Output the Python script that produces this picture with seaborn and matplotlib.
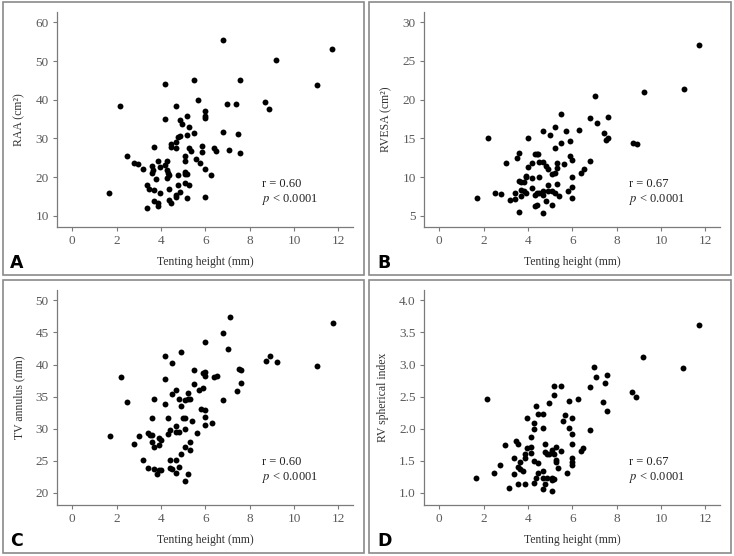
import matplotlib
matplotlib.use("Agg")
import matplotlib.pyplot as plt
import seaborn as sns
import pandas as pd
from matplotlib.patches import Rectangle

sns.set_style("ticks")
plt.rcParams['font.family'] = ['Liberation Serif', 'DejaVu Serif']
plt.rcParams['mathtext.fontset'] = 'stix'

# ---------------- data ----------------
a_x = [1.65, 2.17, 2.47, 2.77, 2.96, 3.17, 3.37, 3.37, 3.47, 3.58, 3.58, 3.62, 3.67, 3.67, 3.67,
       3.76, 3.86, 3.86, 3.86, 3.97, 3.97, 4.17, 4.17, 4.17, 4.27, 4.27, 4.27, 4.32, 4.38, 4.38,
       4.38, 4.47, 4.47, 4.47, 4.66, 4.66, 4.66, 4.66, 4.66, 4.77, 4.77, 4.77, 4.86, 4.86, 4.87,
       4.96, 5.07, 5.07, 5.07, 5.07, 5.07, 5.17, 5.17, 5.17, 5.17, 5.26, 5.26, 5.26, 5.37, 5.47,
       5.47, 5.58, 5.67, 5.77, 5.86, 5.86, 5.97, 5.97, 5.97, 5.97, 5.97, 6.27, 6.38, 6.48, 6.80,
       6.80, 6.98, 7.08, 7.38, 7.47, 7.58, 7.58, 8.71, 8.89, 9.20, 11.02, 11.70]
a_y = [15.8, 38.5, 25.4, 23.7, 23.5, 22.2, 17.9, 12.1, 17.0, 23.0, 21.1, 21.8, 27.8, 16.6, 13.9,
       19.5, 13.4, 12.6, 24.2, 15.9, 22.7, 23.1, 44.2, 35.0, 24.2, 21.8, 19.7, 21.1, 20.6, 16.9,
       14.2, 27.8, 28.5, 13.4, 15.3, 14.9, 27.5, 29.0, 38.4, 30.4, 20.6, 17.9, 30.6, 16.2, 34.9,
       33.7, 25.4, 24.1, 21.3, 20.9, 18.5, 35.8, 30.8, 20.8, 14.7, 33.0, 27.5, 18.0, 26.7, 45.1,
       31.5, 24.8, 40.0, 23.7, 28.1, 26.6, 37.1, 35.7, 35.3, 22.0, 14.8, 20.6, 27.5, 26.7, 55.5,
       31.7, 38.9, 27.1, 38.9, 31.1, 45.1, 26.3, 39.4, 37.6, 50.2, 43.7, 53.2]

b_x = [1.70, 2.20, 2.50, 2.80, 3.01, 3.20, 3.40, 3.40, 3.50, 3.61, 3.61, 3.61, 3.70, 3.70, 3.70,
       3.80, 3.80, 3.89, 3.89, 3.89, 4.00, 4.00, 4.20, 4.20, 4.20, 4.30, 4.30, 4.30, 4.39, 4.39,
       4.39, 4.45, 4.50, 4.50, 4.50, 4.69, 4.69, 4.69, 4.69, 4.69, 4.80, 4.80, 4.90, 4.90, 4.90,
       5.00, 5.10, 5.10, 5.10, 5.20, 5.20, 5.20, 5.20, 5.31, 5.31, 5.31, 5.41, 5.50, 5.50, 5.61,
       5.71, 5.80, 5.91, 5.91, 6.00, 6.00, 6.00, 6.00, 6.30, 6.40, 6.51, 6.81, 6.81, 7.02, 7.11,
       7.41, 7.52, 7.61, 7.61, 8.72, 8.92, 9.22, 11.02, 11.73]
b_y = [7.24, 15.0, 7.97, 7.76, 11.77, 7.03, 7.97, 7.2, 12.5, 13.06, 9.44, 5.43, 9.4, 8.3, 7.5,
       9.4, 8.15, 10.1, 9.96, 7.97, 15.0, 11.34, 11.85, 9.83, 8.53, 12.97, 7.67, 6.25, 12.97, 7.97,
       6.42, 12.97, 11.9, 9.96, 7.97, 16.0, 11.9, 8.19, 7.67, 5.39, 11.42, 6.94, 10.99, 8.97, 8.23,
       15.47, 10.39, 8.15, 6.42, 16.5, 13.8, 10.47, 7.97, 11.85, 11.16, 9.1, 7.5, 18.2, 14.35, 11.68,
       15.9, 8.19, 14.7, 12.7, 12.16, 10.04, 8.75, 7.24, 16.08, 10.47, 10.99, 17.6, 12.07, 20.43, 16.98,
       15.69, 14.78, 17.8, 15.0, 14.4, 14.27, 20.95, 21.4, 27.07]

c_x = [1.68, 2.18, 2.48, 2.78, 2.99, 3.20, 3.40, 3.40, 3.49, 3.60, 3.60, 3.60, 3.70, 3.70, 3.70,
       3.80, 3.89, 3.89, 4.00, 4.00, 3.89, 4.20, 4.20, 4.20, 4.30, 4.30, 4.39, 4.39, 4.39, 4.50,
       4.50, 4.50, 4.69, 4.69, 4.69, 4.69, 4.69, 4.80, 4.80, 4.80, 4.90, 4.90, 4.90, 5.00, 5.10,
       5.10, 5.10, 5.10, 5.10, 5.20, 5.20, 5.20, 5.31, 5.31, 5.31, 5.41, 5.50, 5.50, 5.61, 5.71,
       5.80, 5.91, 5.91, 6.00, 6.00, 6.00, 6.00, 6.00, 6.00, 6.30, 6.40, 6.51, 6.81, 6.81, 7.02,
       7.11, 7.41, 7.52, 7.61, 7.61, 8.72, 8.92, 9.22, 11.02, 11.74]
c_y = [28.9, 38.05, 34.2, 27.7, 28.8, 25.2, 29.4, 23.9, 29.05, 31.6, 29.05, 27.9, 34.6, 27.2, 23.8,
       23.0, 27.5, 28.5, 28.2, 23.6, 23.6, 41.3, 37.8, 33.8, 31.7, 29.2, 29.8, 25.2, 23.9, 40.2,
       35.4, 23.8, 36.1, 30.4, 29.5, 25.2, 23.1, 34.7, 29.5, 24.0, 41.9, 33.6, 26.05, 31.7, 34.4,
       31.7, 29.9, 27.2, 21.8, 35.5, 34.6, 23.0, 34.6, 28.0, 26.7, 31.2, 39.1, 37.0, 29.3, 36.1,
       33.1, 38.7, 36.3, 43.5, 38.9, 38.2, 32.9, 31.8, 30.6, 30.9, 38.0, 38.2, 44.9, 34.5, 42.4,
       47.4, 35.8, 39.3, 39.1, 37.1, 40.6, 41.4, 40.4, 39.8, 46.5]

d_x = [1.65, 2.17, 2.45, 2.75, 2.96, 3.16, 3.35, 3.35, 3.46, 3.55, 3.55, 3.55, 3.65, 3.65, 3.76,
       3.85, 3.85, 3.85, 3.95, 3.95, 4.15, 4.15, 4.15, 4.26, 4.26, 4.26, 4.26, 4.36, 4.36, 4.47,
       4.47, 4.47, 4.66, 4.66, 4.66, 4.66, 4.66, 4.77, 4.77, 4.77, 4.86, 4.86, 4.96, 4.96, 5.07,
       5.07, 5.07, 5.07, 5.17, 5.17, 5.17, 5.17, 5.26, 5.26, 5.26, 5.37, 5.47, 5.47, 5.56, 5.67,
       5.77, 5.86, 5.86, 5.97, 5.97, 5.97, 5.97, 5.97, 5.97, 6.27, 6.38, 6.48, 6.78, 6.78, 6.98,
       7.08, 7.38, 7.47, 7.58, 7.58, 8.69, 8.89, 9.19, 11.01, 11.70]
d_y = [1.24, 2.47, 1.31, 1.44, 1.75, 1.07, 1.55, 1.29, 1.81, 1.77, 1.41, 1.14, 1.48, 1.37, 1.35,
       1.60, 1.54, 1.14, 2.17, 1.70, 1.87, 1.71, 1.62, 2.09, 1.99, 1.50, 1.15, 2.36, 1.23, 2.23,
       1.46, 1.31, 2.23, 2.01, 1.35, 1.24, 1.06, 1.77, 1.64, 1.14, 1.60, 1.24, 2.40, 1.61, 1.67,
       1.24, 1.20, 1.03, 2.66, 2.52, 1.60, 1.21, 1.71, 1.52, 1.48, 1.39, 2.66, 1.65, 2.12, 2.21,
       1.31, 2.43, 2.01, 2.17, 1.92, 1.77, 1.54, 1.49, 1.43, 2.46, 1.66, 1.70, 2.65, 1.98, 2.96,
       2.80, 2.41, 2.72, 2.83, 2.28, 2.57, 2.50, 3.11, 2.95, 3.61]

x_label = "Tenting height (mm)"
y_labels = ["RAA (cm²)", "RVESA (cm²)", "TV annulus (mm)", "RV spherical index"]
panel_letters = ["A", "B", "C", "D"]
r_texts = ["r = 0.60", "r = 0.67", "r = 0.60", "r = 0.67"]
x_ticks = [0, 2, 4, 6, 8, 10, 12]
y_ticks = [[10, 20, 30, 40, 50, 60], [5, 10, 15, 20, 25, 30],
           [20, 25, 30, 35, 40, 45, 50], [1.0, 1.5, 2.0, 2.5, 3.0, 3.5, 4.0]]
y_lims = [(7.1, 62.7), (3.54, 31.33), (18.13, 51.6), (0.813, 4.16)]

xs = [a_x, b_x, c_x, d_x]
ys = [a_y, b_y, c_y, d_y]

# ---------------- figure ----------------
W, H = 734, 556
fig = plt.figure(figsize=(W / 100, H / 100), dpi=100)
fig.patch.set_facecolor("white")

frame_col = "#8a8a8a"
axis_col = "#7a7a7a"
tick_lab_col = "#5a5a5a"

panel_off = [(0, 0), (367, 0), (0, 278), (367, 278)]
frames = [(2.5, 2, 364, 275), (369, 2, 731, 275), (2.5, 280, 364, 553), (369, 280, 731, 553)]

for fx0, fy0, fx1, fy1 in frames:
    fig.add_artist(Rectangle((fx0 / W, 1 - fy1 / H), (fx1 - fx0) / W, (fy1 - fy0) / H,
                             transform=fig.transFigure, fill=False, edgecolor=frame_col, lw=1.2))

for i in range(4):
    ox, oy = panel_off[i]
    left, right, top, bottom = ox + 57, ox + 353, oy + 12, oy + 227
    ax = fig.add_axes([left / W, 1 - bottom / H, (right - left) / W, (bottom - top) / H])
    df = pd.DataFrame({"x": xs[i], "y": ys[i]})
    sns.scatterplot(data=df, x="x", y="y", ax=ax, color="black", s=18, linewidth=0, legend=False)
    ax.set_xlim(-0.69, 12.66)
    ax.set_ylim(*y_lims[i])
    ax.set_xticks(x_ticks)
    ax.set_yticks(y_ticks[i])
    if i == 3:
        ax.set_yticklabels([f"{v:.1f}" for v in y_ticks[i]])
    sns.despine(ax=ax)
    for sp in ["left", "bottom"]:
        ax.spines[sp].set_color(axis_col)
        ax.spines[sp].set_linewidth(0.9)
    ax.tick_params(axis="both", direction="out", length=3, width=0.8, color=axis_col,
                   labelsize=9.5, labelcolor=tick_lab_col, pad=3)
    ax.set_xlabel(x_label, fontsize=8.5, color="#333333", labelpad=6)
    ax.set_ylabel(y_labels[i], fontsize=8.5, color="#333333", labelpad=7)
    ax.text(0.693, 0.20, r_texts[i], transform=ax.transAxes, fontsize=9, color="#222222",
            va="center", ha="left")
    ax.text(0.693, 0.13, r"$p$ < 0.0001", transform=ax.transAxes, fontsize=9, color="#222222",
            va="center", ha="left")
    fig.text((ox + 10) / W, 1 - (oy + 268) / H, panel_letters[i], fontsize=12.5, fontweight="bold",
             family=["Liberation Sans Narrow", "DejaVu Sans"], color="black", ha="left", va="baseline")

fig.savefig("out.png", dpi=100, facecolor="white")
